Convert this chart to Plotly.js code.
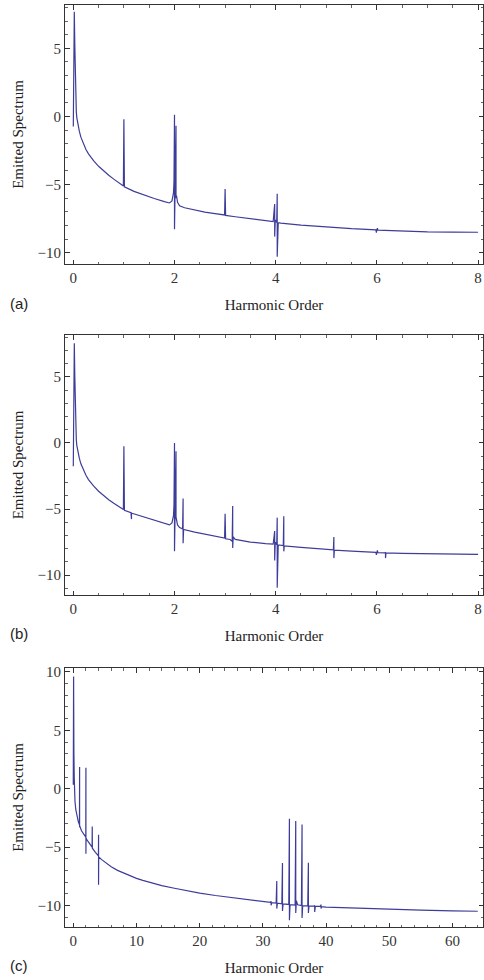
<!DOCTYPE html>
<html>
<head>
<meta charset="utf-8">
<script src="https://cdn.plot.ly/plotly-3.0.1.min.js"></script>
<style>html,body{margin:0;padding:0;background:#fff;}#chart{width:484px;height:980px;}</style>
</head>
<body>
<div id="chart"></div>
<script>
// Panel (a)
const xa = [0, 0.02, 0.03, 0.04, 0.05, 0.06, 0.07, 0.08, 0.09, 0.1, 0.12, 0.15, 0.2, 0.25, 0.3, 0.35, 0.4, 0.5, 0.6, 0.7, 0.8, 0.9, 0.99, 1.0, 1.0, 1.01, 1.2, 1.4, 1.6, 1.8, 1.9, 1.95, 1.98, 1.99, 2.0, 2.0, 2.01, 2.03, 2.03, 2.04, 2.06, 2.1, 2.2, 2.4, 2.6, 2.8, 2.99, 3.0, 3.0, 3.01, 3.2, 3.5, 3.8, 3.95, 3.98, 3.98, 3.99, 4.0, 4.02, 4.03, 4.03, 4.05, 4.1, 4.5, 5.0, 5.5, 5.98, 5.99, 6.0, 6.01, 6.02, 6.5, 7.0, 7.5, 8.0];
const ya = [-0.74, 7.68, 5.2, 2.2, 1.0, 0.3, -0.1, -0.35, -0.56, -0.74, -1.1, -1.52, -2.02, -2.42, -2.75, -3.02, -3.25, -3.66, -4.02, -4.32, -4.6, -4.87, -5.1, -0.2, -5.15, -5.17, -5.5, -5.78, -6.02, -6.25, -6.35, -6.2, -5.6, -4.8, 0.12, -8.28, -5.0, -0.68, -6.0, -5.8, -6.3, -6.55, -6.7, -6.88, -7.02, -7.13, -7.23, -5.32, -7.25, -7.26, -7.36, -7.52, -7.66, -7.72, -6.43, -8.82, -7.75, -7.6, -7.78, -5.68, -10.29, -7.8, -7.83, -7.98, -8.13, -8.24, -8.32, -8.53, -8.3, -8.2, -8.34, -8.41, -8.47, -8.49, -8.5];

// Panel (b)
const xb = [0, 0.02, 0.03, 0.04, 0.05, 0.06, 0.07, 0.08, 0.09, 0.1, 0.12, 0.15, 0.2, 0.25, 0.3, 0.35, 0.4, 0.5, 0.6, 0.7, 0.8, 0.9, 0.99, 1.0, 1.0, 1.01, 1.14, 1.15, 1.15, 1.16, 1.4, 1.6, 1.8, 1.9, 1.95, 1.98, 1.99, 2.0, 2.0, 2.01, 2.03, 2.03, 2.04, 2.06, 2.1, 2.16, 2.17, 2.17, 2.18, 2.4, 2.6, 2.8, 2.99, 3.0, 3.0, 3.01, 3.1, 3.14, 3.15, 3.15, 3.16, 3.2, 3.5, 3.8, 3.95, 3.98, 3.98, 3.99, 4.0, 4.02, 4.03, 4.03, 4.05, 4.1, 4.15, 4.16, 4.16, 4.17, 4.5, 5.0, 5.14, 5.15, 5.15, 5.16, 5.5, 5.98, 5.99, 6.0, 6.01, 6.02, 6.16, 6.17, 6.17, 6.18, 6.5, 7.0, 7.14, 7.15, 7.16, 7.5, 8.0];
const yb = [-1.77, 7.53, 5.0, 2.1, 0.9, 0.2, -0.2, -0.45, -0.65, -0.82, -1.17, -1.58, -2.06, -2.45, -2.77, -3.03, -3.25, -3.65, -4.0, -4.29, -4.56, -4.81, -5.03, -0.25, -5.08, -5.1, -5.28, -5.76, -5.3, -5.32, -5.62, -5.88, -6.1, -6.2, -6.05, -5.5, -4.7, 0.0, -8.2, -5.0, -0.63, -5.6, -5.9, -6.2, -6.4, -6.5, -4.21, -7.58, -6.55, -6.75, -6.9, -7.05, -7.2, -5.35, -7.24, -7.25, -7.3, -7.45, -4.77, -7.95, -7.1, -7.3, -7.5, -7.62, -7.66, -6.67, -8.89, -7.68, -7.5, -7.7, -5.65, -10.95, -7.72, -7.75, -7.77, -5.55, -8.2, -7.78, -7.9, -8.05, -8.08, -7.12, -8.71, -8.1, -8.18, -8.28, -8.46, -8.28, -8.13, -8.3, -8.32, -8.26, -8.71, -8.32, -8.36, -8.4, -8.41, -8.36, -8.41, -8.42, -8.43];

// Panel (c)
const xc = [0, 0.05, 0.1, 0.15, 0.2, 0.27, 0.4, 0.6, 0.8, 0.98, 1.0, 1.0, 1.02, 1.3, 1.6, 1.98, 2.0, 2.0, 2.02, 2.3, 2.64, 2.98, 3.0, 3.02, 3.5, 3.98, 4.0, 4.0, 4.02, 4.5, 5, 6, 7, 8, 9, 10, 11, 12, 14, 16, 18, 20, 22.5, 25, 27.5, 29.5, 31.2, 31.3, 31.3, 31.4, 32.1, 32.2, 32.2, 32.3, 33.0, 33.1, 33.1, 33.2, 34.1, 34.2, 34.2, 34.3, 35.1, 35.2, 35.2, 35.3, 35.5, 36.1, 36.2, 36.2, 36.3, 37.1, 37.2, 37.2, 37.3, 38.1, 38.2, 38.2, 38.3, 39.1, 39.2, 39.2, 39.3, 40, 43, 46.9, 50, 55, 60, 64];
const yc = [0.34, 9.62, 3.0, 1.0, -0.2, -1.1, -1.8, -2.45, -2.85, -3.1, 1.85, -3.3, -3.2, -3.6, -3.9, -4.15, 1.8, -5.57, -4.25, -4.5, -4.8, -5.0, -3.23, -5.1, -5.45, -5.75, -3.94, -8.22, -5.85, -6.08, -6.3, -6.68, -7.0, -7.25, -7.48, -7.68, -7.86, -8.02, -8.3, -8.53, -8.75, -8.95, -9.15, -9.33, -9.5, -9.62, -9.74, -9.65, -9.99, -9.76, -9.8, -7.91, -10.27, -9.81, -9.86, -6.37, -10.48, -9.87, -9.92, -2.57, -11.28, -9.93, -9.97, -2.77, -10.65, -9.6, -9.95, -10.01, -3.06, -11.08, -10.02, -10.04, -6.34, -10.65, -10.05, -10.07, -10.0, -10.56, -10.08, -10.09, -9.93, -10.27, -10.1, -10.14, -10.2, -10.27, -10.33, -10.4, -10.46, -10.5];

const panelLabels = ['(a)', '(b)', '(c)'];
const yTitle = 'Emitted Spectrum';
const xTitle = 'Harmonic Order';

const lineColor = '#3d3d99';
const serif = 'Liberation Serif, Times New Roman, serif';

function mkTrace(x, y, xa_, ya_) {
  return {x: x, y: y, xaxis: xa_, yaxis: ya_, type: 'scatter', mode: 'lines',
    line: {color: lineColor, width: 1.2, shape: 'linear'}, hoverinfo: 'skip', showlegend: false};
}

function xAxis(range, dtick, mdtick, anchor) {
  return {
    domain: [0, 1], anchor: anchor, range: range, dtick: dtick, tick0: 0,
    showgrid: false, zeroline: false, showline: true, linecolor: '#333', linewidth: 1,
    mirror: 'ticks', ticks: 'inside', ticklen: 4.5, tickwidth: 1, tickcolor: '#333',
    minor: {dtick: mdtick, tick0: 0, ticks: 'inside', ticklen: 2.5, tickcolor: '#666', showgrid: false},
    tickfont: {family: serif, size: 15, color: '#333'},
    title: {text: xTitle, font: {family: serif, size: 15, color: '#222'}, standoff: 14}
  };
}
function yAxis(range, domain, anchor, tickvals) {
  return {
    domain: domain, anchor: anchor, range: range, tickvals: tickvals,
    showgrid: false, zeroline: false, showline: true, linecolor: '#333', linewidth: 1,
    mirror: 'ticks', ticks: 'inside', ticklen: 4.5, tickwidth: 1, tickcolor: '#333',
    minor: {dtick: 1, tick0: 0, ticks: 'inside', ticklen: 2.5, tickcolor: '#666', showgrid: false},
    tickfont: {family: serif, size: 15, color: '#333'},
    title: {text: yTitle, font: {family: serif, size: 15, color: '#222'}, standoff: 10}
  };
}

const H = 980;
const dom = (top, bot) => [1 - bot / H, 1 - top / H];

const data = [
  mkTrace(xa, ya, 'x', 'y'),
  mkTrace(xb, yb, 'x2', 'y2'),
  mkTrace(xc, yc, 'x3', 'y3')
];

const layout = {
  width: 484, height: 980,
  margin: {l: 65, r: 1, t: 0, b: 0},
  paper_bgcolor: '#fff', plot_bgcolor: '#fff',
  showlegend: false,
  xaxis: xAxis([-0.164, 8.097], 2, 0.5, 'y'),
  yaxis: yAxis([-10.83, 8.18], dom(5, 264), 'x', [-10, -5, 0, 5]),
  xaxis2: xAxis([-0.164, 8.097], 2, 0.5, 'y2'),
  yaxis2: yAxis([-11.5, 8.16], dom(335, 595), 'x2', [-10, -5, 0, 5]),
  xaxis3: xAxis([-1.31, 64.83], 10, 2, 'y3'),
  yaxis3: yAxis([-11.85, 10.34], dom(668, 927), 'x3', [-10, -5, 0, 5, 10]),
  annotations: panelLabels.map((t, i) => ({
    text: t, xref: 'paper', yref: 'paper', x: (19 - 65) / 418,
    y: 1 - [303, 633, 965][i] / H, xanchor: 'center', yanchor: 'middle',
    showarrow: false, font: {family: 'Liberation Sans, Arial, sans-serif', size: 15, color: '#222'}
  }))
};

Plotly.newPlot('chart', data, layout, {displayModeBar: false, staticPlot: true});
</script>
</body>
</html>
